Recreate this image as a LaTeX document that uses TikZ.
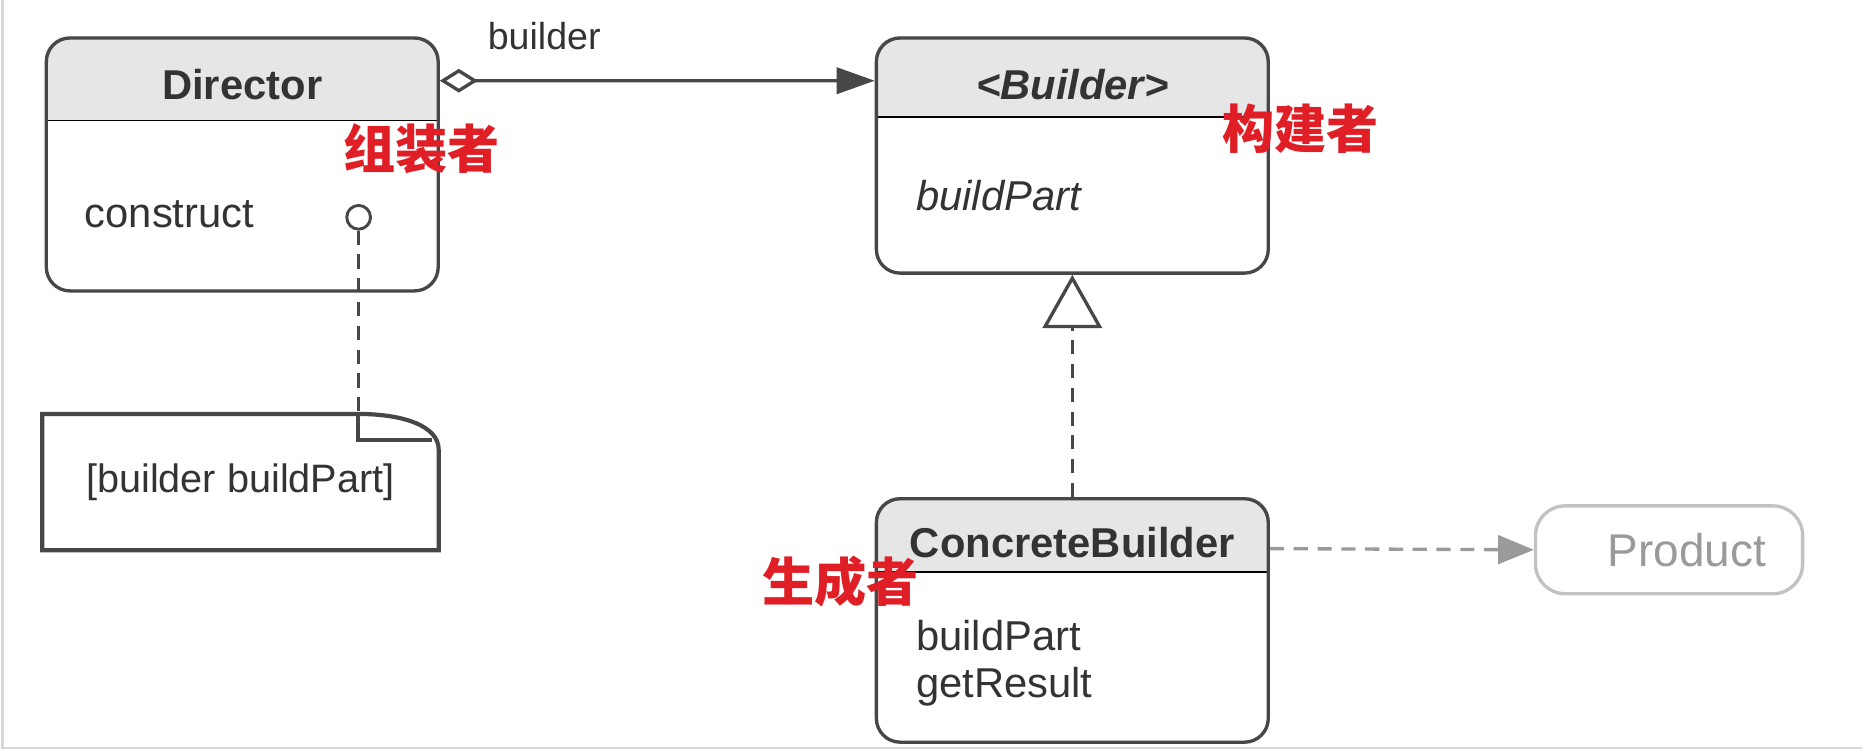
\documentclass[tikz,border=0pt]{standalone}
\usepackage{fontspec}
\setmainfont{Liberation Sans}
\newfontfamily\cjk{Noto Sans CJK SC}
\usetikzlibrary{arrows.meta,positioning,calc,backgrounds}
\definecolor{lineC}{HTML}{474747}
\definecolor{textC}{HTML}{333333}
\definecolor{hdrC}{HTML}{E6E6E6}
\definecolor{faintC}{HTML}{9A9A9A}
\definecolor{tagC}{HTML}{E01E26}

\begin{document}
\begin{tikzpicture}[>=Stealth,line width=0.8pt,color=lineC,text=textC,
  cls/.style={draw=lineC,rounded corners=2mm,minimum width=3.3cm,inner sep=0pt},
  ttl/.style={inner sep=0pt,font=\bfseries\fontsize{10}{12}\selectfont},
  mbr/.style={anchor=west,inner sep=0pt,font=\fontsize{10}{12}\selectfont},
  tag/.style={inner sep=0pt,text=tagC,font=\cjk\bfseries\fontsize{12.5}{14}\selectfont},
  dsh/.style={dash pattern=on 3.4pt off 2.3pt}]
  \useasboundingbox (0,0) rectangle (15.68,6.33);
  \draw[gray!30,line width=0.6pt] (0.02,6.33) -- (0.02,0.03) -- (15.68,0.03);

  % class boxes
  \node[cls,minimum height=2.13cm] (dir) at (2.04,4.945) {};
  \node[cls,minimum height=1.98cm] (bld) at (9.03,5.02) {};
  \node[cls,minimum height=2.05cm] (cb) at (9.03,1.105) {};
  \node[cls,draw=faintC!60,rounded corners=2.5mm,minimum width=2.25cm,minimum height=0.74cm,
    text=faintC,font=\fontsize{11}{13}\selectfont] (prod) at (14.055,1.70) {\hspace*{0.3cm}Product};

  % grey headers
  \begin{scope}[on background layer]
    \foreach \b/\h in {dir/7.1mm,bld/6.8mm,cb/6.3mm} {
      \begin{scope}
        \clip[rounded corners=2mm] (\b.south west) rectangle (\b.north east);
        \fill[hdrC] (\b.north west) rectangle ([yshift=-\h]\b.north east);
      \end{scope}
      \draw ([yshift=-\h]\b.north west) -- ([yshift=-\h]\b.north east);
    }
  \end{scope}

  \node[ttl] (dirT) at ([yshift=-4.1mm]dir.north) {Director};
  \node[ttl,font=\bfseries\itshape\fontsize{10}{12}\selectfont] (bldT) at ([yshift=-4.1mm]bld.north) {<Builder>};
  \node[ttl] (cbT) at ([yshift=-3.8mm]cb.north) {ConcreteBuilder};

  \node[mbr] (dirM) at (0.70,4.53) {construct};
  \node[mbr,font=\itshape\fontsize{10}{12}\selectfont] (bldM) at (7.70,4.68) {buildPart};
  \node[mbr] (cbM1) at (7.70,0.98) {buildPart};
  \node[mbr] (cbM2) at (7.70,0.55) {getResult};

  % note
  \node[circle,draw,minimum size=2mm,inner sep=0pt,line width=0.7pt] (hook) at (3.02,4.50) {};
  \node[minimum width=3.31cm,minimum height=1.12cm,inner sep=0pt,
    font=\fontsize{9.5}{11}\selectfont] (note) at (2.025,2.27) {[builder buildPart]};
  \draw[line width=1pt] (note.north west) -- ($(note.north east)+(-0.68,0)$) coordinate (fold)
    .. controls ($(note.north east)+(-0.3,0)$) and ($(note.north east)+(0,-0.1)$) .. ($(note.north east)+(0,-0.3)$)
    -- (note.south east) -- (note.south west) -- cycle;
  \draw (fold) -- ++(0,-0.22) -- ($(note.north east)+(-0.06,-0.22)$);
  \draw[dsh] (hook.south) -- (hook |- note.north);

  % relations
  \draw[{Diamond[open,fill=white,length=3.2mm,width=2mm]}-{Triangle[length=3.2mm,width=2.2mm]}]
    ([yshift=7.05mm]dir.east) -- ([yshift=6.3mm]bld.west)
    node[pos=0.24,yshift=3.8mm,font=\fontsize{9}{11}\selectfont] {builder};
  \draw[dsh,-{Triangle[open,fill=white,length=4.5mm,width=5mm]}] (cb.north) -- (bld.south);
  \draw[dsh,color=faintC,-{Triangle[length=3mm,width=2.4mm]}] ([yshift=6.05mm]cb.east) -- (prod.west);

  % red tags
  \node[tag] (tDir) at (3.55,5.08) {组装者};
  \node[tag] (tBld) at (10.95,5.25) {构建者};
  \node[tag] (tCb) at (7.08,1.43) {生成者};
\end{tikzpicture}
\end{document}
